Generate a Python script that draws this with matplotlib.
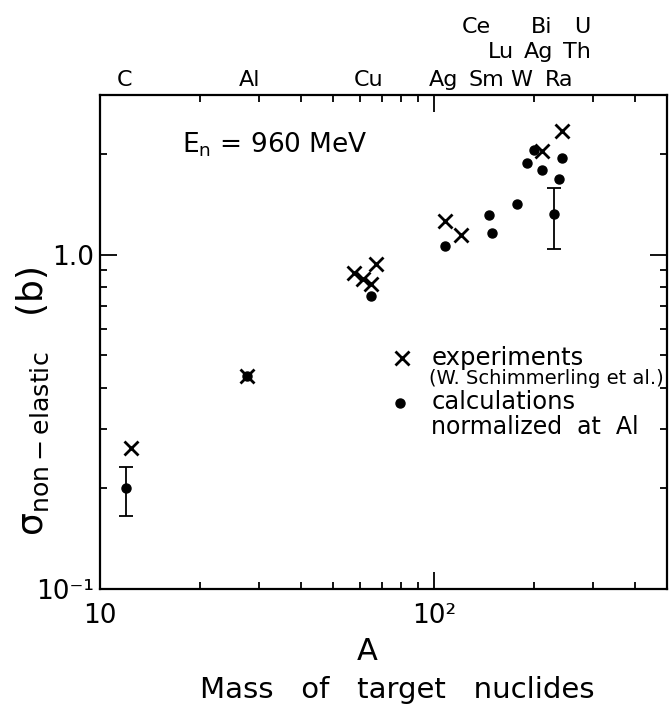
import numpy as np
import matplotlib
matplotlib.use("Agg")
import matplotlib.pyplot as plt
import matplotlib.transforms as mtransforms
from matplotlib.ticker import FixedLocator, FixedFormatter, NullFormatter, LogLocator

plt.rcParams['font.family'] = ['DejaVu Sans']
plt.rcParams['mathtext.default'] = 'regular'

# experiments (W. Schimmerling et al.)
exp_A = [12.4, 27.5, 57.6, 61.2, 65.0, 67.3, 108, 121, 211, 242]
exp_sigma = [0.264, 0.434, 0.881, 0.846, 0.819, 0.94, 1.258, 1.148, 2.04, 2.34]

# calculations normalized at Al
calc_A = [12, 27.5, 65, 108, 146, 150, 178, 190, 200, 211, 230, 238, 242]
calc_sigma = [0.200, 0.434, 0.75, 1.064, 1.317, 1.161, 1.421, 1.88, 2.06, 1.79, 1.324, 1.677, 1.95]

# error bars on two calculated points
err_A = [12, 230]
err_sigma = [0.200, 1.324]
err_lo = [0.165, 1.04]
err_hi = [0.231, 1.583]

# element labels above the frame (row, A position)
row1 = [("C", 11.8), ("Al", 28), ("Cu", 64), ("Ag", 107), ("Sm", 144), ("W", 183), ("Ra", 237)]
row2 = [("Lu", 159), ("Ag", 206), ("Th", 268)]
row3 = [("Ce", 134), ("Bi", 211), ("U", 279)]

fig = plt.figure(figsize=(6.7, 7.06), dpi=100)
ax = fig.add_axes([0.1493, 0.1657, 0.8462, 0.6997])
ax.set_xscale("log")
ax.set_yscale("log")
ax.set_xlim(10, 500)
ax.set_ylim(0.1, 3.0)

yerr = [np.array(err_sigma) - np.array(err_lo), np.array(err_hi) - np.array(err_sigma)]
ax.errorbar(err_A, err_sigma, yerr=yerr, fmt="none", ecolor="black",
            elinewidth=1.3, capsize=5, capthick=1.3)
ax.plot(calc_A, calc_sigma, "o", color="black", markersize=6.5, linestyle="none")
ax.plot(exp_A, exp_sigma, "x", color="black", markersize=9.5, markeredgewidth=2.0,
        linestyle="none")

for s in ax.spines.values():
    s.set_linewidth(1.6)

ax.tick_params(which="both", direction="in", top=True, right=True, width=1.3)
ax.tick_params(which="major", length=12)
ax.tick_params(which="minor", length=5)
ax.xaxis.set_major_locator(FixedLocator([10, 100]))
ax.xaxis.set_major_formatter(FixedFormatter(["10", "10²"]))
ax.xaxis.set_minor_locator(LogLocator(base=10, subs=np.arange(2, 10)))
ax.xaxis.set_minor_formatter(NullFormatter())
ax.yaxis.set_major_locator(FixedLocator([0.1, 1.0]))
ax.yaxis.set_major_formatter(FixedFormatter(["10⁻¹", "1.0"]))
ax.yaxis.set_minor_locator(LogLocator(base=10, subs=np.arange(2, 10)))
ax.yaxis.set_minor_formatter(NullFormatter())
ax.tick_params(axis="x", labelsize=19, pad=10)
ax.tick_params(axis="y", labelsize=19, pad=4)

ax.text(0.145, 0.899, "E$_n$ = 960 MeV", transform=ax.transAxes,
        fontsize=19, va="center", ha="left")

# legend drawn by hand
ax.plot([0.532], [0.467], "x", color="black", markersize=9.5, markeredgewidth=2.0,
        transform=ax.transAxes, clip_on=False)
ax.plot([0.529], [0.377], "o", color="black", markersize=6.5,
        transform=ax.transAxes, clip_on=False)
ax.text(0.584, 0.468, "experiments", transform=ax.transAxes, fontsize=17.5, va="center")
ax.text(0.581, 0.427, "(W. Schimmerling et al.)", transform=ax.transAxes, fontsize=14,
        va="center")
ax.text(0.584, 0.379, "calculations", transform=ax.transAxes, fontsize=17.5, va="center")
ax.text(0.584, 0.328, "normalized  at  Al", transform=ax.transAxes, fontsize=17,
        va="center")

trans = mtransforms.blended_transform_factory(ax.transData, fig.transFigure)
for row, yfig in [(row1, 1 - 80 / 706), (row2, 1 - 52 / 706), (row3, 1 - 27 / 706)]:
    for name, a in row:
        ax.text(a, yfig, name, transform=trans, ha="center", va="center", fontsize=16)

fig.text(0.049, 0.432, r"$\sigma_{non-elastic}$   (b)", rotation=90, fontsize=26,
         ha="center", va="center")
fig.text(0.548, 0.0765, "A", fontsize=22, ha="center", va="center")
fig.text(0.593, 0.023, "Mass   of   target   nuclides", fontsize=21, ha="center",
         va="center")

fig.savefig("out.png", dpi=100)
